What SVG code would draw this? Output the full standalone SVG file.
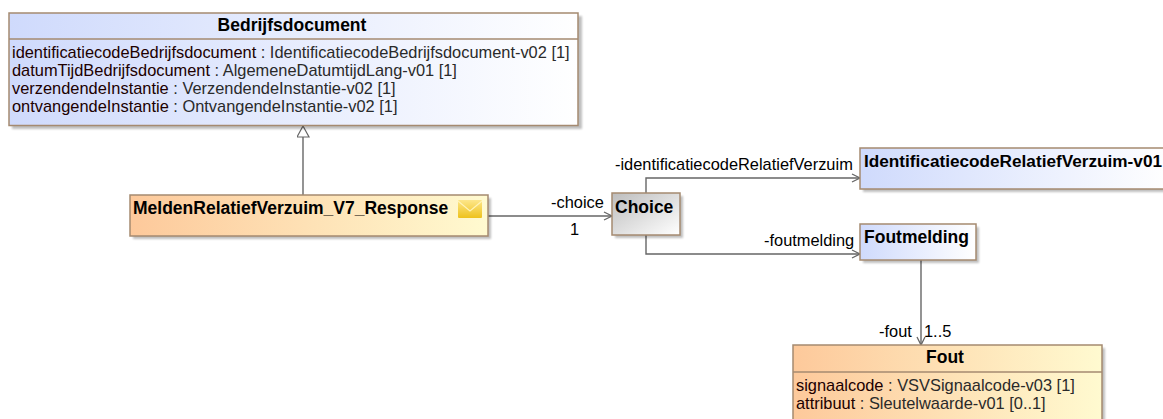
<svg xmlns="http://www.w3.org/2000/svg" width="1163" height="419" viewBox="0 0 1163 419">
<style>
text{font-family:"Liberation Sans",Arial,sans-serif;font-size:16.4px;fill:#000}
.t{font-weight:bold;font-size:17.5px}
.m{text-anchor:middle}
.a{fill:#2a2a2a}
.n{fill:#200000}
.b{stroke:#a58a70;stroke-width:1.5}
.s{fill:#000;opacity:.25;filter:url(#bl)}
.c{fill:none;stroke:#666;stroke-width:1.4}
.l{stroke:#a58a70;stroke-width:1.3}
</style>
<defs>
<linearGradient id="blue"><stop offset="0" stop-color="#cfdafc"/><stop offset="1" stop-color="#fff"/></linearGradient>
<linearGradient id="orange"><stop offset="0" stop-color="#fdc99b"/><stop offset="1" stop-color="#fffad0"/></linearGradient>
<linearGradient id="grey" x1="0" y1="0" x2="1" y2="1"><stop offset="0" stop-color="#bdbdbd"/><stop offset="1" stop-color="#fff"/></linearGradient>
<linearGradient id="env" x1="0" y1="0" x2="0" y2="1"><stop offset="0" stop-color="#fde68a"/><stop offset="1" stop-color="#eec21c"/></linearGradient>
<filter id="bl" x="-5%" y="-5%" width="110%" height="110%"><feGaussianBlur stdDeviation="1"/></filter>
<marker id="open" markerWidth="12" markerHeight="12" refX="9" refY="5" orient="auto" markerUnits="userSpaceOnUse"><path d="M1 1L9 5L1 9" fill="none" stroke="#666" stroke-width="1.3"/></marker>
<marker id="tri" markerWidth="14" markerHeight="14" refX="12" refY="6.500" orient="auto" markerUnits="userSpaceOnUse"><path d="M1 0.500L12 6.500L1 12.500Z" fill="#fff" stroke="#666" stroke-width="1.2"/></marker>
</defs>
<g id="connectors">
<path class="c" d="M303 195V126" marker-end="url(#tri)"/>
<path class="c" d="M488 216H612" marker-end="url(#open)"/>
<path class="c" d="M646 193V178H860" marker-end="url(#open)"/>
<path class="c" d="M646 235V254H860" marker-end="url(#open)"/>
<path class="c" d="M921 260V345" marker-end="url(#open)"/>
<text x="551" y="208">-choice</text>
<text x="570" y="235">1</text>
<text x="615" y="170">-identificatiecodeRelatiefVerzuim</text>
<text x="764" y="245.500">-foutmelding</text>
<text x="879" y="337">-fout</text>
<text x="924" y="337">1..5</text>
</g>
<g id="Bedrijfsdocument">
<rect class="s" x="12" y="16" width="570" height="113"/>
<rect class="b" x="9" y="13" width="569" height="112.500" fill="url(#blue)"/>
<line class="l" x1="9" y1="39" x2="578" y2="39"/>
<text class="t m" x="292" y="31">Bedrijfsdocument</text>
<text x="12" y="58"><tspan class="n">identificatiecodeBedrijfsdocument</tspan><tspan class="a"> : IdentificatiecodeBedrijfsdocument-v02 [1]</tspan></text>
<text x="12" y="76"><tspan class="n">datumTijdBedrijfsdocument</tspan><tspan class="a"> : AlgemeneDatumtijdLang-v01 [1]</tspan></text>
<text x="12" y="94"><tspan class="n">verzendendeInstantie</tspan><tspan class="a"> : VerzendendeInstantie-v02 [1]</tspan></text>
<text x="12" y="112"><tspan class="n">ontvangendeInstantie</tspan><tspan class="a"> : OntvangendeInstantie-v02 [1]</tspan></text>
</g>
<g id="MeldenRelatiefVerzuim">
<rect class="s" x="133" y="198" width="358" height="41"/>
<rect class="b" x="130" y="195" width="358" height="41" fill="url(#orange)"/>
<text class="t" x="133" y="214">MeldenRelatiefVerzuim_V7_Response</text>
<rect x="458" y="200" width="24" height="18" rx="1" fill="url(#env)"/>
<path d="M458 201L470 211L482 201" fill="none" stroke="#fff3b8" stroke-width="1.2"/>
</g>
<g id="Choice">
<rect class="s" x="615" y="196" width="68" height="42"/>
<rect class="b" x="612" y="193" width="68" height="42" fill="url(#grey)"/>
<text class="t" x="615" y="213">Choice</text>
</g>
<g id="IdentificatiecodeRelatiefVerzuim">
<rect class="s" x="863" y="151" width="310" height="41"/>
<rect class="b" x="860" y="148" width="310" height="41" fill="url(#blue)"/>
<text class="t" x="864" y="167" style="font-size:17.2px">IdentificatiecodeRelatiefVerzuim-v01</text>
</g>
<g id="Foutmelding">
<rect class="s" x="863" y="227" width="116" height="36"/>
<rect class="b" x="860" y="224" width="116" height="36" fill="url(#blue)"/>
<text class="t" x="864" y="243">Foutmelding</text>
</g>
<g id="Fout">
<rect class="s" x="796" y="348" width="309" height="80"/>
<rect class="b" x="793" y="345" width="309" height="80" fill="url(#orange)"/>
<line class="l" x1="793" y1="372" x2="1102" y2="372"/>
<text class="t m" x="945" y="363">Fout</text>
<text x="796" y="391"><tspan class="n">signaalcode</tspan><tspan class="a"> : VSVSignaalcode-v03 [1]</tspan></text>
<text x="796" y="409"><tspan class="n">attribuut</tspan><tspan class="a"> : Sleutelwaarde-v01 [0..1]</tspan></text>
</g>
</svg>
